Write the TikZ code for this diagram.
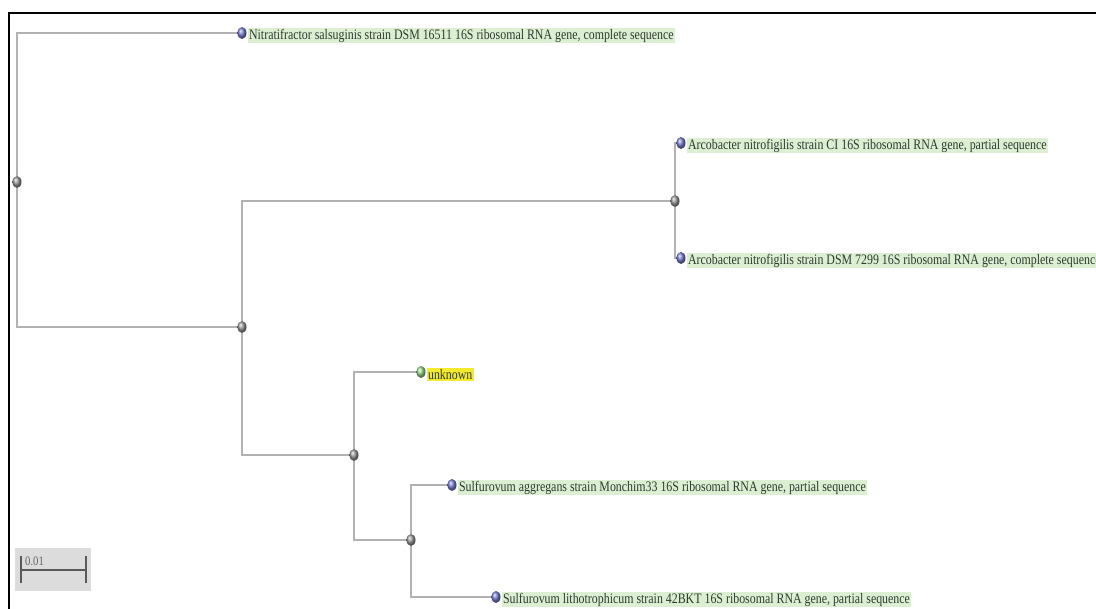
\documentclass[tikz,border=0pt]{standalone}
\usepackage{fontspec}
\setmainfont{Liberation Serif}
\newfontfamily\taxonfont[FakeStretch=0.82]{Liberation Serif}
\usetikzlibrary{positioning,shapes.geometric,backgrounds}
\definecolor{branchgray}{HTML}{B2B2B2}
\definecolor{labelgreen}{HTML}{DCEFD3}
\definecolor{unkyellow}{HTML}{F3EA2E}
\definecolor{nodeblue}{HTML}{7A80D4}
\definecolor{nodegray}{HTML}{9A9A9A}
\definecolor{nodegreen}{HTML}{98D688}
\definecolor{scalegray}{HTML}{DCDCDC}
\definecolor{textdark}{HTML}{2E3A2E}

\begin{document}
\begin{tikzpicture}
[
x=1pt, y=-1pt,
innerdot/.style={ellipse, draw=none, inner sep=0pt, minimum width=9pt, minimum height=12pt, ball color=nodegray},
leafdot/.style={innerdot, ball color=nodeblue},
querydot/.style={innerdot, ball color=nodegreen},
taxon/.style={fill=labelgreen, text=textdark, inner sep=1.2pt, anchor=west, yshift=-2.5pt, font=\taxonfont\fontsize{14.5}{16}\selectfont},
query/.style={taxon, fill=unkyellow},
branch/.style={draw=branchgray, line width=1.6pt},
scalebar/.style={draw=black!65, line width=2pt}
]
\clip (0,0) rectangle (1096,609);
\useasboundingbox (0,0) rectangle (1096,609);
% frame
\draw[line width=2.4pt] (1100,13) -- (9,13) -- (9,615);

% internal nodes
\node (root) [innerdot] at (17,182) {};
\node (n1) [innerdot] at (242,327) {};
\node (n2) [innerdot] at (675,201) {};
\node (n3) [innerdot] at (354,455) {};
\node (n4) [innerdot] at (411,540) {};

% leaves
\node (nit) [leafdot] at (242,33) {};
\node (arcci) [leafdot] at (681,143) {};
\node (arcdsm) [leafdot] at (681,258) {};
\node (unk) [querydot] at (421,372) {};
\node (sagg) [leafdot] at (452,485) {};
\node (slith) [leafdot] at (496,597) {};

\node (nitlab) [taxon, right=1pt of nit] {Nitratifractor salsuginis strain DSM 16511 16S ribosomal RNA gene, complete sequence};
\node (arccilab) [taxon, right=1pt of arcci] {Arcobacter nitrofigilis strain CI 16S ribosomal RNA gene, partial sequence};
\node (arcdsmlab) [taxon, right=1pt of arcdsm] {Arcobacter nitrofigilis strain DSM 7299 16S ribosomal RNA gene, complete sequence};
\node (unklab) [query, right=1pt of unk] {unknown};
\node (sagglab) [taxon, right=1pt of sagg] {Sulfurovum aggregans strain Monchim33 16S ribosomal RNA gene, partial sequence};
\node (slithlab) [taxon, right=1pt of slith] {Sulfurovum lithotrophicum strain 42BKT 16S ribosomal RNA gene, partial sequence};

% branches
\begin{pgfonlayer}{background}
\draw[branch] (root) |- (nit);
\draw[branch] (root) |- (n1);
\draw[branch] (n1) |- (n2);
\draw[branch] (n1) |- (n3);
\draw[branch] (n2) |- (arcci);
\draw[branch] (n2) |- (arcdsm);
\draw[branch] (n3) |- (unk);
\draw[branch] (n3) |- (n4);
\draw[branch] (n4) |- (sagg);
\draw[branch] (n4) |- (slith);
\end{pgfonlayer}

% scale
\node (scalebox) [fill=scalegray, minimum width=76pt, minimum height=43pt, inner sep=0pt] at (53,569.5) {};
\draw[scalebar] (21,556) -- (21,583) (21,570) -- (86,570) (86,556) -- (86,583);
\node (scalelab) [anchor=south west, inner sep=0pt, text=black!60, font=\taxonfont\fontsize{13}{14}\selectfont] at (25,566) {0.01};
\end{tikzpicture}
\end{document}
